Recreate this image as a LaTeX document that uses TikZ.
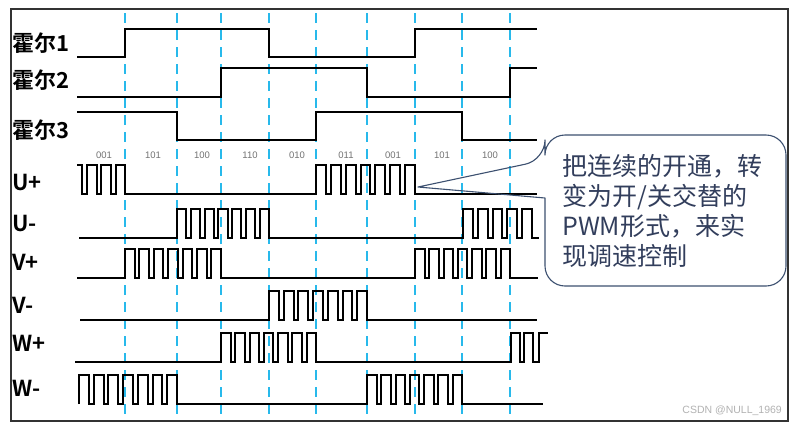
\documentclass[tikz,border=0pt]{standalone}
\usepackage{fontspec}
\setmainfont{Liberation Sans}
\newfontfamily\cjk{Noto Sans CJK SC}
\newfontfamily\cjkb{Noto Sans CJK SC Bold}
\definecolor{dashblue}{RGB}{40,185,235}
\definecolor{callline}{RGB}{60,80,112}
\definecolor{calltext}{RGB}{50,62,92}
\newcommand\pwm[4]{foreach \k in {1,...,#3} { -- ({#1+(\k-1)*3*(#2-#1)/(3*#3-1)},#4) -- ({#1+(\k-1)*3*(#2-#1)/(3*#3-1)},#4-29) -- ({#1+((\k-1)*3+2)*(#2-#1)/(3*#3-1)},#4-29) -- ({#1+((\k-1)*3+2)*(#2-#1)/(3*#3-1)},#4) }}
\begin{document}
\begin{tikzpicture}[x=1pt,y=-1pt,
  sig/.style={line width=2pt,black,line join=miter},
  grid/.style={dashblue,line width=1.5pt,dash pattern=on 10pt off 7pt},
  lbl/.style={font=\cjkb\fontsize{22}{22}\selectfont,anchor=west,inner sep=0pt},
  code/.style={font=\fontsize{9.5}{9.5}\selectfont,text=black!55,inner sep=0pt}]
\useasboundingbox (0,0) rectangle (794,424);
\fill[white] (0,0) rectangle (794,424);
% dashed guides
\foreach \x in {125,177,221,269,316,367,415,462,510}
  \draw[grid] (\x,13) -- (\x,418);
% labels
\node[lbl] (h1) at (12,43) {霍尔1};
\node[lbl] (h2) at (12,80) {霍尔2};
\node[lbl] (h3) at (12,130) {霍尔3};
\node[lbl] (up) at (12,182) {U+};
\node[lbl] (um) at (12,223) {U-};
\node[lbl] (vp) at (12,262) {V+};
\node[lbl] (vm) at (12,305) {V-};
\node[lbl] (wp) at (12,343) {W+};
\node[lbl] (wm) at (12,388) {W-};
% state codes
\node[code] (s1) at (104,155) {001};
\node[code] (s2) at (153,155) {101};
\node[code] (s3) at (202,155) {100};
\node[code] (s4) at (250,155) {110};
\node[code] (s5) at (297,155) {010};
\node[code] (s6) at (346,155) {011};
\node[code] (s7) at (393,155) {001};
\node[code] (s8) at (442,155) {101};
\node[code] (s9) at (490,155) {100};
% hall signals
\draw[sig] (77,57) -- (125,57) -- (125,29) -- (269,29) -- (269,57) -- (415,57) -- (415,29) -- (537,29);
\draw[sig] (77,97) -- (221,97) -- (221,68) -- (367,68) -- (367,97) -- (510,97) -- (510,68) -- (537,68);
\draw[sig] (77,112) -- (177,112) -- (177,140) -- (316,140) -- (316,112) -- (462,112) -- (462,140) -- (537,140);
% phase signals
\draw[sig] (77,165) -- (82,165) -- (82,194) \pwm{87}{125}{3}{194} \pwm{316}{415}{7}{194} -- (537,194);
\draw[sig] (79,238) \pwm{177}{269}{7}{238} \pwm{463}{532}{5}{238} -- (539,238);
\draw[sig] (77,278) \pwm{125}{221}{7}{278} \pwm{415}{510}{7}{278} -- (538,278);
\draw[sig] (80,320) \pwm{269}{367}{7}{320} -- (537,320);
\draw[sig] (75,362) \pwm{221}{316}{7}{362} \pwm{511}{533}{2}{362} -- (539,362) -- (539,333) -- (548,333);
\draw[sig] (79,404) \pwm{79}{177}{7}{404} \pwm{367}{462}{7}{404} -- (543,404);
% callout
\draw[callline,line width=1.1pt,line join=round] (545,160) -- (418,187) -- (545,198)
  [rounded corners=20pt] -- (545,286) -- (786,286) -- (786,135) -- (545,135) -- cycle;
\node[font=\cjk\fontsize{25}{30}\selectfont,text=calltext,align=left,anchor=west,inner sep=0pt] (note) at (562,211)
  {把连续的开通，转\\变为开/关交替的\\PWM形式，来实\\现调速控制};
% frame
\draw[black!80,line width=1.6pt] (11,9) rectangle (788,421);
% watermark
\node[font=\fontsize{10.5}{10.5}\selectfont,text=black!30,anchor=east,inner sep=0pt] (wm) at (782,411) {CSDN @NULL\_1969};
\end{tikzpicture}
\end{document}
